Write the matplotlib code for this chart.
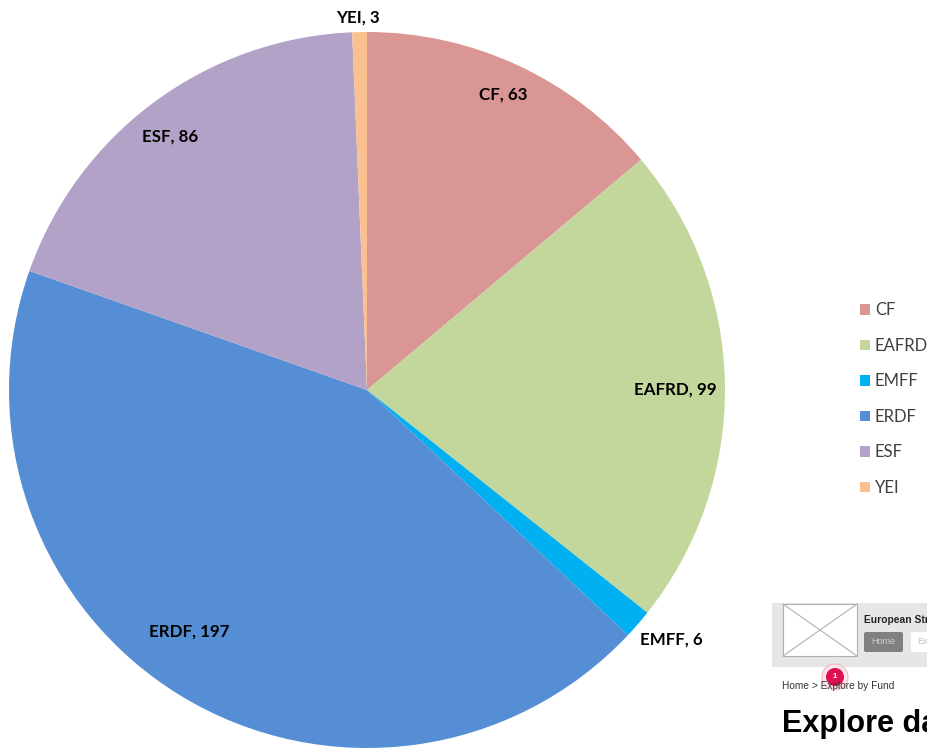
import matplotlib
matplotlib.use('Agg')
from matplotlib import pyplot as plt
from matplotlib.patches import Rectangle, Circle, FancyBboxPatch

funds = ['CF', 'EAFRD', 'EMFF', 'ERDF', 'ESF', 'YEI']
counts = [63, 99, 6, 197, 86, 3]
colors = ['#D99694', '#C3D69B', '#00B0F0', '#558ED5', '#B3A2C7', '#FAC090']
# label centres in pixels of the reference
label_pos = [(503, 94.5), (675, 390), (671, 640), (189, 632), (170, 137), (358, 18)]

W, H = 928, 748
plt.rcParams['font.family'] = ['Lato', 'DejaVu Sans']

fig = plt.figure(figsize=(W / 100, H / 100), dpi=100)

# pie, centre (367, 390), radius 358 px
cx, cy, r = 367, 390, 358
ax = fig.add_axes([(cx - r) / W, (H - cy - r) / H, 2 * r / W, 2 * r / H])
wedges, _ = ax.pie(counts, colors=colors, startangle=90, counterclock=False, radius=1)
ax.set_xlim(-1, 1)
ax.set_ylim(-1, 1)
for w in wedges:
    w.set_clip_on(False)

# overlay in pixel coords for labels and the screenshot fragment
ov = fig.add_axes([0, 0, 1, 1], zorder=3)
ov.set_xlim(0, W)
ov.set_ylim(H, 0)
ov.axis('off')

for name, n, (x, y) in zip(funds, counts, label_pos):
    ov.text(x, y, f'{name}, {n}', ha='center', va='center', fontsize=12.2, fontweight='bold', color='black')

# legend
ov.legend(wedges, funds, loc='center left', bbox_to_anchor=(860 / W, 1 - 399 / H),
          bbox_transform=fig.transFigure, frameon=False, fontsize=12, labelspacing=1.17,
          handlelength=0.6, handleheight=0.6, handletextpad=0.3, borderpad=0, borderaxespad=0,
          labelcolor='#404040')

# pasted screenshot piece, bottom right
sans = ['Liberation Sans', 'DejaVu Sans']
ov.add_patch(Rectangle((772, 603), 156, 64, fc='#E6E6E6', ec='none'))
ov.add_patch(Rectangle((783, 604), 74, 52, fc='white', ec='#B0B0B0', lw=0.8))
ov.plot([783, 857], [604, 656], color='#B0B0B0', lw=0.8)
ov.plot([783, 857], [656, 604], color='#B0B0B0', lw=0.8)
ov.text(864, 620, 'European Str', family=sans, fontsize=7.4, fontweight='bold', va='center', color='#222222')
ov.add_patch(FancyBboxPatch((866, 634), 35, 16, boxstyle='round,pad=2', fc='#808080', ec='none'))
ov.text(883.5, 641, 'Home', family=sans, fontsize=6.5, ha='center', va='center', color='#D0D0D0')
ov.add_patch(FancyBboxPatch((913, 634), 20, 16, boxstyle='round,pad=2', fc='white', ec='none'))
ov.text(917, 641, 'Exp', family=sans, fontsize=6.5, va='center', color='#C0C0C0')
ov.text(782, 686, 'Home > Explore by Fund', family=sans, fontsize=7.3, va='center', color='#333333')
ov.add_patch(Circle((835, 677), 13, fc='#FBE6EC', ec='#F2B8C9', lw=0.8))
ov.add_patch(Circle((835, 677), 9, fc='#DE1050', ec='none'))
ov.text(835, 677, '1', family=sans, fontsize=5.5, ha='center', va='center', color='white', fontweight='bold')
ov.text(782, 724, 'Explore da', family=sans, fontsize=22, fontweight='bold', va='center', color='black')

fig.savefig('out.png', dpi=100)
